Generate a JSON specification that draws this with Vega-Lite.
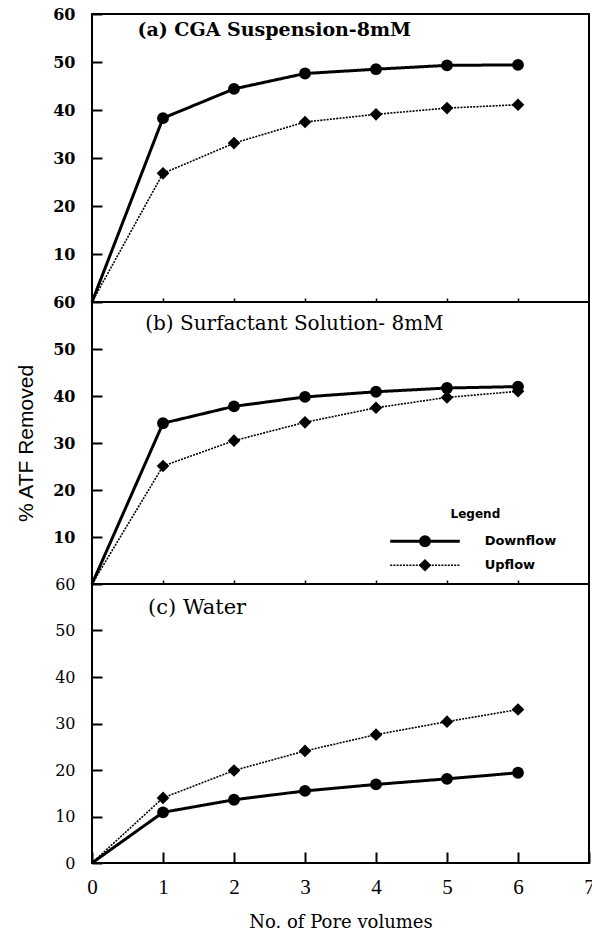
{
  "$schema": "https://vega.github.io/schema/vega-lite/v6.json",
  "padding": {"left": 14, "top": 5, "right": 0, "bottom": 0},
  "background": "white",
  "spacing": 0,
  "bounds": "flush",
  "config": {
    "view": {"stroke": "black", "strokeWidth": 2},
    "axis": {"grid": false, "domain": false, "tickColor": "black", "labelColor": "black", "titleColor": "black", "labelOverlap": false},
    "concat": {"spacing": 0}
  },
  "datasets": {
    "main": [
      {"panel": "a", "series": "Downflow", "pv": 0, "pct": 0},
      {"panel": "a", "series": "Downflow", "pv": 1, "pct": 38.3},
      {"panel": "a", "series": "Downflow", "pv": 2, "pct": 44.4},
      {"panel": "a", "series": "Downflow", "pv": 3, "pct": 47.6},
      {"panel": "a", "series": "Downflow", "pv": 4, "pct": 48.5},
      {"panel": "a", "series": "Downflow", "pv": 5, "pct": 49.3},
      {"panel": "a", "series": "Downflow", "pv": 6, "pct": 49.4},
      {"panel": "a", "series": "Upflow", "pv": 0, "pct": 0},
      {"panel": "a", "series": "Upflow", "pv": 1, "pct": 26.8},
      {"panel": "a", "series": "Upflow", "pv": 2, "pct": 33.1},
      {"panel": "a", "series": "Upflow", "pv": 3, "pct": 37.5},
      {"panel": "a", "series": "Upflow", "pv": 4, "pct": 39.1},
      {"panel": "a", "series": "Upflow", "pv": 5, "pct": 40.4},
      {"panel": "a", "series": "Upflow", "pv": 6, "pct": 41.1},
      {"panel": "b", "series": "Downflow", "pv": 0, "pct": 0},
      {"panel": "b", "series": "Downflow", "pv": 1, "pct": 34.2},
      {"panel": "b", "series": "Downflow", "pv": 2, "pct": 37.8},
      {"panel": "b", "series": "Downflow", "pv": 3, "pct": 39.8},
      {"panel": "b", "series": "Downflow", "pv": 4, "pct": 40.9},
      {"panel": "b", "series": "Downflow", "pv": 5, "pct": 41.7},
      {"panel": "b", "series": "Downflow", "pv": 6, "pct": 42.0},
      {"panel": "b", "series": "Upflow", "pv": 0, "pct": 0},
      {"panel": "b", "series": "Upflow", "pv": 1, "pct": 25.1},
      {"panel": "b", "series": "Upflow", "pv": 2, "pct": 30.5},
      {"panel": "b", "series": "Upflow", "pv": 3, "pct": 34.4},
      {"panel": "b", "series": "Upflow", "pv": 4, "pct": 37.5},
      {"panel": "b", "series": "Upflow", "pv": 5, "pct": 39.7},
      {"panel": "b", "series": "Upflow", "pv": 6, "pct": 41.0},
      {"panel": "c", "series": "Downflow", "pv": 0, "pct": 0},
      {"panel": "c", "series": "Downflow", "pv": 1, "pct": 10.9},
      {"panel": "c", "series": "Downflow", "pv": 2, "pct": 13.6},
      {"panel": "c", "series": "Downflow", "pv": 3, "pct": 15.5},
      {"panel": "c", "series": "Downflow", "pv": 4, "pct": 16.9},
      {"panel": "c", "series": "Downflow", "pv": 5, "pct": 18.1},
      {"panel": "c", "series": "Downflow", "pv": 6, "pct": 19.4},
      {"panel": "c", "series": "Upflow", "pv": 0, "pct": 0},
      {"panel": "c", "series": "Upflow", "pv": 1, "pct": 14.0},
      {"panel": "c", "series": "Upflow", "pv": 2, "pct": 19.9},
      {"panel": "c", "series": "Upflow", "pv": 3, "pct": 24.1},
      {"panel": "c", "series": "Upflow", "pv": 4, "pct": 27.6},
      {"panel": "c", "series": "Upflow", "pv": 5, "pct": 30.4},
      {"panel": "c", "series": "Upflow", "pv": 6, "pct": 33.0}
    ],
    "legend": [
      {"series": "Downflow", "x": 4.2, "y": 9.1},
      {"series": "Downflow", "x": 5.18, "y": 9.1},
      {"series": "Upflow", "x": 4.2, "y": 4.0},
      {"series": "Upflow", "x": 5.18, "y": 4.0}
    ],
    "legendMarks": [
      {"series": "Downflow", "x": 4.69, "y": 9.1, "tx": 5.53},
      {"series": "Upflow", "x": 4.69, "y": 4.0, "tx": 5.53}
    ],
    "legendHead": [{"label": "Legend", "x": 5.4, "y": 14.9}]
  },
  "vconcat": [
    {
      "width": 497,
      "height": 288,
      "layer": [
        {
          "data": {"name": "main"},
          "transform": [{"filter": "datum.panel == 'a'"}],
          "mark": {"type": "line", "color": "black"},
          "encoding": {
            "x": {"field": "pv", "type": "quantitative", "scale": {"domain": [0, 7], "nice": false},
                  "axis": {"values": [1, 2, 3, 4, 5, 6], "labels": false, "offset": -4, "tickSize": 4, "tickWidth": 1.5, "title": null}},
            "y": {"field": "pct", "type": "quantitative", "scale": {"domain": [0, 60], "nice": false},
                  "axis": {"values": [10, 20, 30, 40, 50, 60], "offset": -10, "tickSize": 10, "tickWidth": 2, "labelPadding": 17,
                           "labelFont": "DejaVu Serif", "labelFontSize": 16, "labelFontWeight": "bold", "title": null}},
            "detail": {"field": "series"},
            "strokeDash": {"field": "series", "type": "nominal", "scale": {"domain": ["Downflow", "Upflow"], "range": [[1, 0], [2, 1.2]]}, "legend": null},
            "strokeWidth": {"field": "series", "type": "nominal", "scale": {"domain": ["Downflow", "Upflow"], "range": [3, 1.6]}, "legend": null}
          }
        },
        {
          "data": {"name": "main"},
          "transform": [{"filter": "datum.panel == 'a' && datum.pv > 0"}],
          "mark": {"type": "point", "filled": true, "color": "black", "opacity": 1},
          "encoding": {
            "x": {"field": "pv", "type": "quantitative"},
            "y": {"field": "pct", "type": "quantitative"},
            "shape": {"field": "series", "type": "nominal", "scale": {"domain": ["Downflow", "Upflow"], "range": ["circle", "diamond"]}, "legend": null},
            "size": {"field": "series", "type": "nominal", "scale": {"domain": ["Downflow", "Upflow"], "range": [140, 160]}, "legend": null}
          }
        },
        {
          "data": {"values": [{"label": "(a) CGA Suspension-8mM", "x": 0.64, "y": 56.7}]},
          "mark": {"type": "text", "align": "left", "baseline": "middle", "font": "DejaVu Serif", "fontSize": 19, "fontWeight": "bold", "color": "black"},
          "encoding": {
            "x": {"field": "x", "type": "quantitative"},
            "y": {"field": "y", "type": "quantitative"},
            "text": {"field": "label"}
          }
        }
      ]
    },
    {
      "width": 497,
      "height": 282,
      "layer": [
        {
          "data": {"name": "main"},
          "transform": [{"filter": "datum.panel == 'b'"}],
          "mark": {"type": "line", "color": "black"},
          "encoding": {
            "x": {"field": "pv", "type": "quantitative", "scale": {"domain": [0, 7], "nice": false},
                  "axis": {"values": [1, 2, 3, 4, 5, 6], "labels": false, "offset": -4, "tickSize": 4, "tickWidth": 1.5, "title": null}},
            "y": {"field": "pct", "type": "quantitative", "scale": {"domain": [0, 60], "nice": false},
                  "axis": {"values": [10, 20, 30, 40, 50, 60], "offset": -10, "tickSize": 10, "tickWidth": 2, "labelPadding": 17,
                           "labelFont": "DejaVu Serif", "labelFontSize": 16, "labelFontWeight": "bold",
                           "title": "% ATF Removed", "titleFont": "Liberation Sans", "titleFontSize": 21, "titleFontWeight": "normal",
                           "titleX": -76, "titleY": 141, "titleAlign": "center", "titleBaseline": "middle", "titleAngle": 270}},
            "detail": {"field": "series"},
            "strokeDash": {"field": "series", "type": "nominal", "scale": {"domain": ["Downflow", "Upflow"], "range": [[1, 0], [2, 1.2]]}, "legend": null},
            "strokeWidth": {"field": "series", "type": "nominal", "scale": {"domain": ["Downflow", "Upflow"], "range": [2.6, 1.6]}, "legend": null}
          }
        },
        {
          "data": {"name": "main"},
          "transform": [{"filter": "datum.panel == 'b' && datum.pv > 0"}],
          "mark": {"type": "point", "filled": true, "color": "black", "opacity": 1},
          "encoding": {
            "x": {"field": "pv", "type": "quantitative"},
            "y": {"field": "pct", "type": "quantitative"},
            "shape": {"field": "series", "type": "nominal", "scale": {"domain": ["Downflow", "Upflow"], "range": ["circle", "diamond"]}, "legend": null},
            "size": {"field": "series", "type": "nominal", "scale": {"domain": ["Downflow", "Upflow"], "range": [140, 160]}, "legend": null}
          }
        },
        {
          "data": {"name": "legend"},
          "mark": {"type": "line", "color": "black"},
          "encoding": {
            "x": {"field": "x", "type": "quantitative"},
            "y": {"field": "y", "type": "quantitative"},
            "detail": {"field": "series"},
            "strokeDash": {"field": "series", "type": "nominal", "scale": {"domain": ["Downflow", "Upflow"], "range": [[1, 0], [2, 1.2]]}, "legend": null},
            "strokeWidth": {"field": "series", "type": "nominal", "scale": {"domain": ["Downflow", "Upflow"], "range": [2.6, 1.6]}, "legend": null}
          }
        },
        {
          "data": {"name": "legendMarks"},
          "mark": {"type": "point", "filled": true, "color": "black", "opacity": 1},
          "encoding": {
            "x": {"field": "x", "type": "quantitative"},
            "y": {"field": "y", "type": "quantitative"},
            "shape": {"field": "series", "type": "nominal", "scale": {"domain": ["Downflow", "Upflow"], "range": ["circle", "diamond"]}, "legend": null},
            "size": {"field": "series", "type": "nominal", "scale": {"domain": ["Downflow", "Upflow"], "range": [140, 160]}, "legend": null}
          }
        },
        {
          "data": {"name": "legendMarks"},
          "mark": {"type": "text", "align": "left", "baseline": "middle", "font": "DejaVu Sans", "fontSize": 13, "fontWeight": "bold", "color": "black"},
          "encoding": {
            "x": {"field": "tx", "type": "quantitative"},
            "y": {"field": "y", "type": "quantitative"},
            "text": {"field": "series"}
          }
        },
        {
          "data": {"name": "legendHead"},
          "mark": {"type": "text", "align": "center", "baseline": "middle", "font": "DejaVu Sans", "fontSize": 12, "fontWeight": "bold", "color": "black"},
          "encoding": {
            "x": {"field": "x", "type": "quantitative"},
            "y": {"field": "y", "type": "quantitative"},
            "text": {"field": "label"}
          }
        },
        {
          "data": {"values": [{"label": "(b) Surfactant Solution- 8mM", "x": 0.75, "y": 55.4}]},
          "mark": {"type": "text", "align": "left", "baseline": "middle", "font": "DejaVu Serif", "fontSize": 20, "fontWeight": "normal", "color": "black"},
          "encoding": {
            "x": {"field": "x", "type": "quantitative"},
            "y": {"field": "y", "type": "quantitative"},
            "text": {"field": "label"}
          }
        }
      ]
    },
    {
      "width": 497,
      "height": 279,
      "layer": [
        {
          "data": {"name": "main"},
          "transform": [{"filter": "datum.panel == 'c'"}],
          "mark": {"type": "line", "color": "black"},
          "encoding": {
            "x": {"field": "pv", "type": "quantitative", "scale": {"domain": [0, 7], "nice": false},
                  "axis": {"values": [0, 1, 2, 3, 4, 5, 6, 7], "format": "d", "offset": -11, "tickSize": 11, "tickWidth": 2, "labelPadding": 13, "labelFlush": false,
                           "labelFont": "Liberation Serif", "labelFontSize": 21,
                           "title": "No. of Pore volumes", "titleFont": "DejaVu Serif", "titleFontSize": 18, "titleFontWeight": "normal",
                           "titleY": 70, "titleBaseline": "middle"}},
            "y": {"field": "pct", "type": "quantitative", "scale": {"domain": [0, 60], "nice": false},
                  "axis": {"values": [0, 10, 20, 30, 40, 50, 60], "offset": -10, "tickSize": 10, "tickWidth": 2, "labelPadding": 17,
                           "labelFont": "DejaVu Serif", "labelFontSize": 16, "labelFontWeight": "normal", "title": null}},
            "detail": {"field": "series"},
            "strokeDash": {"field": "series", "type": "nominal", "scale": {"domain": ["Downflow", "Upflow"], "range": [[1, 0], [2, 1.2]]}, "legend": null},
            "strokeWidth": {"field": "series", "type": "nominal", "scale": {"domain": ["Downflow", "Upflow"], "range": [2.4, 1.5]}, "legend": null}
          }
        },
        {
          "data": {"name": "main"},
          "transform": [{"filter": "datum.panel == 'c' && datum.pv > 0"}],
          "mark": {"type": "point", "filled": true, "color": "black", "opacity": 1},
          "encoding": {
            "x": {"field": "pv", "type": "quantitative"},
            "y": {"field": "pct", "type": "quantitative"},
            "shape": {"field": "series", "type": "nominal", "scale": {"domain": ["Downflow", "Upflow"], "range": ["circle", "diamond"]}, "legend": null},
            "size": {"field": "series", "type": "nominal", "scale": {"domain": ["Downflow", "Upflow"], "range": [140, 160]}, "legend": null}
          }
        },
        {
          "data": {"values": [{"label": "(c) Water", "x": 0.79, "y": 54.9}]},
          "mark": {"type": "text", "align": "left", "baseline": "middle", "font": "DejaVu Serif", "fontSize": 21, "fontWeight": "normal", "color": "black"},
          "encoding": {
            "x": {"field": "x", "type": "quantitative"},
            "y": {"field": "y", "type": "quantitative"},
            "text": {"field": "label"}
          }
        }
      ]
    }
  ]
}
